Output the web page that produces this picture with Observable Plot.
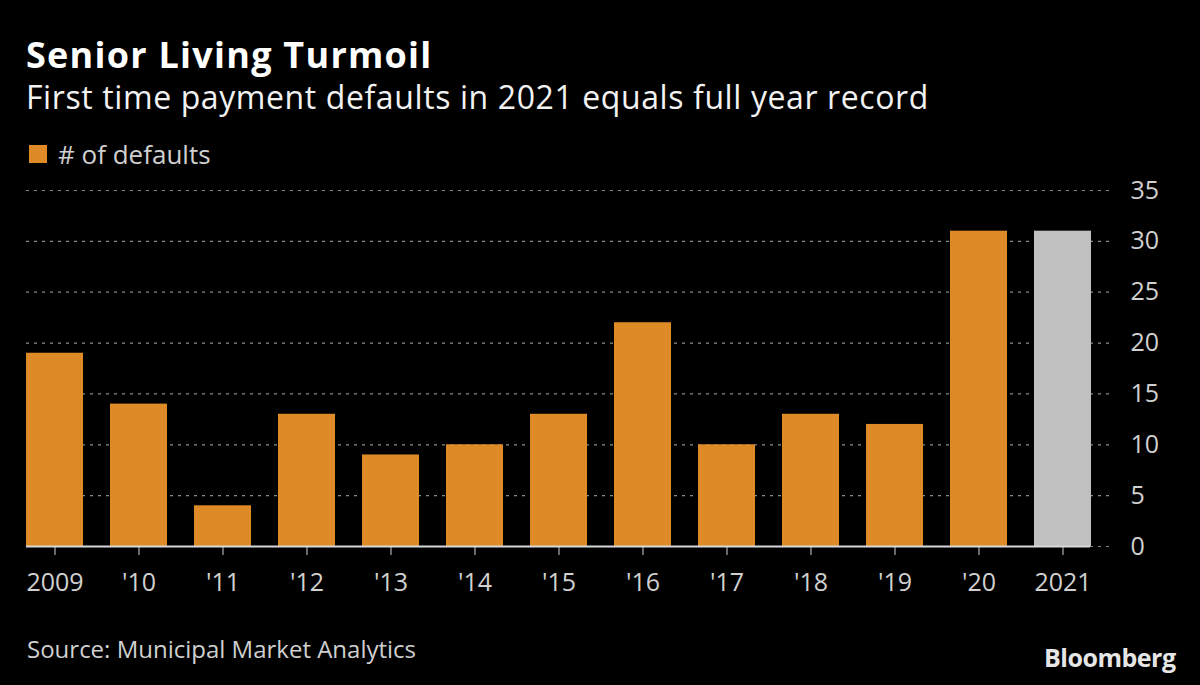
<!DOCTYPE html>
<html>
<head>
<meta charset="utf-8">
<script src="https://cdn.jsdelivr.net/npm/d3@7"></script>
<script src="https://cdn.jsdelivr.net/npm/@observablehq/plot@0.6"></script>
<style>
  html, body { margin:0; padding:0; background:#000; }
  body { width:1200px; height:685px; position:relative; overflow:hidden; font-family:"Open Sans", sans-serif; color:#fff; }
  .t { position:absolute; white-space:nowrap; line-height:1; }
  #title { left:26px; top:37px; font-size:36px; font-weight:700; letter-spacing:1.25px; }
  #subtitle { left:26px; top:81px; font-size:32px; letter-spacing:0.6px; color:#f2f2f2; }
  #legend { left:29px; top:141px; font-size:26px; color:#d0d0d0; display:flex; align-items:center; }
  #legend .sw { width:18px; height:18px; background:#DE8B27; margin-right:11px; display:inline-block; }
  #source { left:27px; top:637px; font-size:24px; color:#cfcfcf; }
  #brand { left:1044px; top:645px; font-size:25px; font-weight:700; color:#e6e6e6; letter-spacing:-0.5px; }
  #chart { position:absolute; left:0; top:165px; }
  #chart svg { overflow: visible; }
</style>
</head>
<body>
<div class="t" id="title"></div>
<div class="t" id="subtitle"></div>
<div class="t" id="legend"><span class="sw"></span><span id="legendText"></span></div>
<div id="chart"></div>
<div class="t" id="source"></div>
<div class="t" id="brand"></div>
<script>
const titleText = "Senior Living Turmoil";
const subtitleText = "First time payment defaults in 2021 equals full year record";
const legendLabel = "# of defaults";
const sourceText = "Source: Municipal Market Analytics";
const brandText = "Bloomberg";

const years = ["2009","2010","2011","2012","2013","2014","2015","2016","2017","2018","2019","2020","2021"];
const yearLabels = ["2009","'10","'11","'12","'13","'14","'15","'16","'17","'18","'19","'20","2021"];
const defaults = [19,14,4,13,9,10,13,22,10,13,12,31,31];
const kinds = ["full","full","full","full","full","full","full","full","full","full","full","full","ytd"];
const yTicks = [0,5,10,15,20,25,30,35];

document.getElementById("title").textContent = titleText;
document.getElementById("subtitle").textContent = subtitleText;
document.getElementById("legendText").textContent = legendLabel;
document.getElementById("source").textContent = sourceText;
document.getElementById("brand").textContent = brandText;

const data = years.map((y, i) => ({year: y, value: defaults[i], kind: kinds[i]}));
const labelOf = new Map(years.map((y, i) => [y, yearLabels[i]]));

const chart = Plot.plot({
  width: 1200,
  height: 440,
  marginLeft: 26,
  marginRight: 88,
  marginTop: 25,
  marginBottom: 59,
  style: {background: "#000", color: "#d0d0d0", fontSize: "25px", fontFamily: "'Open Sans', sans-serif"},
  x: {type: "band", domain: years, range: [13, 1105], paddingInner: 0.32, paddingOuter: 0.16,
      label: null, tickSize: 9, tickPadding: 18, tickFormat: d => labelOf.get(d)},
  y: {domain: [0, 35], ticks: yTicks, axis: "right", label: null, tickSize: 0, tickPadding: 18},
  color: {domain: ["full", "ytd"], range: ["#DE8B27", "#C0C0C0"]},
  marks: [
    Plot.ruleY(yTicks, {stroke: "#8a8a8a", strokeDasharray: "3,5", strokeWidth: 1.2}),
    Plot.barY(data, {x: "year", y: "value", fill: "kind"}),
    Plot.ruleY([0], {stroke: "#d8d8d8", strokeWidth: 2, insetRight: 22})
  ]
});
document.getElementById("chart").appendChild(chart);
</script>
</body>
</html>
